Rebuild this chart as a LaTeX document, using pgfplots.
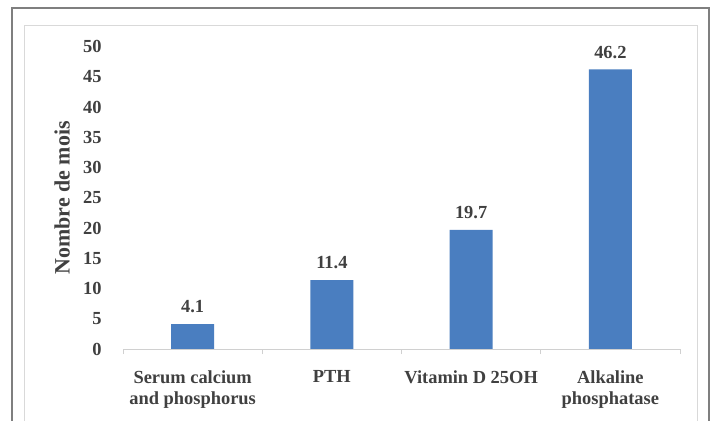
\documentclass[border=0pt]{standalone}
\usepackage{pgfplots}
\pgfplotsset{compat=1.18}
\usepackage{fontspec}
\setmainfont{Liberation Serif}
\definecolor{barblue}{HTML}{4A7EC0}
\definecolor{txt}{HTML}{404040}
\definecolor{outerframe}{HTML}{7F7F7F}
\definecolor{innerframe}{HTML}{D9D9D9}
\definecolor{axisgray}{HTML}{D0D0D0}
\begin{document}
\begin{tikzpicture}
\useasboundingbox (0bp,0bp) rectangle (715bp,421bp);
\fill[white] (0bp,0bp) rectangle (715bp,421bp);
\draw[outerframe, line width=2bp] (11.5bp,-10bp) -- (11.5bp,413bp) -- (709bp,413bp) -- (709bp,-10bp);
\draw[innerframe, line width=1bp] (24.5bp,-10bp) -- (24.5bp,395bp) -- (697.5bp,395bp) -- (697.5bp,-10bp);
\begin{axis}[
  at={(123bp,72bp)}, anchor=south west,
  scale only axis, width=557bp, height=302.5bp,
  xmin=-0.5, xmax=3.5, ymin=0, ymax=50,
  axis x line*=bottom, axis y line*=left,
  y axis line style={draw=none},
  x axis line style={axisgray, line width=0.8bp},
  ytick={0,5,...,50},
  ytick style={draw=none},
  xtick={0,1,2,3},
  xticklabels={{Serum calcium\\and phosphorus},{PTH},{Vitamin D 25OH},{Alkaline\\phosphatase}},
  major x tick style={draw=none},
  minor xtick={-0.5,0.5,1.5,2.5,3.5},
  minor x tick style={axisgray, line width=0.8bp},
  minor tick length=5bp,
  tick align=outside,
  /pgf/number format/assume math mode=true,
  ticklabel style={font=\fontsize{18.5}{21}\selectfont\bfseries, text=txt},
  xticklabel style={align=center, anchor=north, inner sep=0pt, yshift=-17bp},
  yticklabel style={anchor=east, inner sep=0pt, xshift=-17bp},
  ylabel={Nombre de mois},
  ylabel style={at={(axis description cs:-0.1095,0.5)}, anchor=center, font=\fontsize{22}{26}\selectfont\bfseries, text=txt},
  ybar, bar width=43bp,
  nodes near coords,
  nodes near coords style={font=\fontsize{18.5}{21}\selectfont\bfseries, text=txt, anchor=south, inner sep=0pt, yshift=11bp, /pgf/number format/fixed, /pgf/number format/fixed zerofill, /pgf/number format/precision=1},
]
\addplot[fill=barblue, draw=none] coordinates {(0,4.1) (1,11.4) (2,19.7) (3,46.2)};
\end{axis}
\end{tikzpicture}
\end{document}
